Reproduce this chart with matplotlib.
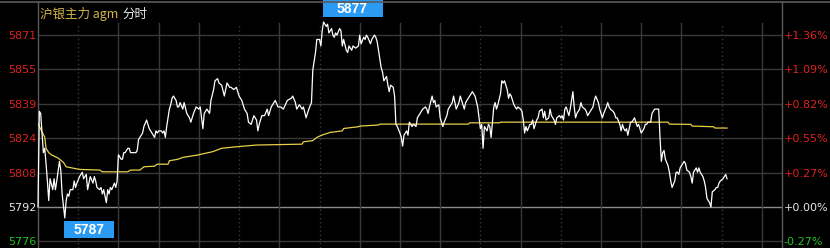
import matplotlib
matplotlib.use('Agg')
import matplotlib.pyplot as plt
from matplotlib.patches import Rectangle
from matplotlib.lines import Line2D
from matplotlib.transforms import IdentityTransform

# settlement price and the price step between grid lines
base_price = 5792
price_step = 15.8
tick_steps = [-1, 0, 1, 2, 3, 4, 5]

# trading minutes in the session, grid every half hour
session_minutes = 555
grid_every = 30
dotted_grid = [1, 5, 7, 11, 13, 17]

title_left = '沪银主力 agm'
title_right = '分时'

# minute-by-minute trace
minutes = [0, 1, 2, 3, 4, 5, 6, 7, 8, 9, 11, 12, 13, 14, 16, 17, 18, 20, 21, 22,
           23, 24, 26, 27, 28, 29, 31, 33, 34, 36, 37, 38, 39, 41, 42, 43, 44, 46, 47, 48,
           49, 51, 52, 53, 54, 55, 57, 58, 59, 60, 62, 63, 64, 65, 67, 68, 69, 70, 73, 74,
           75, 77, 78, 79, 81, 82, 83, 84, 85, 87, 88, 89, 90, 92, 93, 94, 95, 96, 98, 99,
           100, 101, 103, 104, 105, 106, 108, 109, 111, 113, 114, 116, 118, 120, 121, 123, 124, 126, 128, 129,
           131, 132, 134, 135, 137, 139, 141, 143, 144, 146, 148, 150, 152, 154, 156, 157, 159, 161, 163, 164,
           165, 167, 169, 171, 172, 174, 176, 177, 179, 181, 183, 186, 189, 190, 192, 193, 195, 197, 198, 200,
           202, 204, 205, 207, 208, 210, 211, 212, 213, 215, 216, 217, 219, 220, 221, 222, 223, 225, 226, 227,
           228, 230, 231, 232, 234, 235, 237, 239, 240, 241, 243, 244, 245, 246, 248, 249, 251, 252, 253, 255,
           256, 257, 258, 260, 261, 262, 263, 265, 266, 267, 268, 270, 271, 272, 273, 275, 276, 277, 278, 279,
           280, 282, 283, 285, 287, 289, 290, 291, 292, 294, 295, 296, 297, 299, 300, 302, 303, 305, 306, 307,
           309, 310, 311, 312, 314, 315, 317, 318, 319, 321, 322, 324, 326, 328, 329, 330, 331, 332, 333, 335,
           336, 337, 338, 340, 341, 342, 343, 345, 346, 347, 348, 350, 351, 352, 353, 355, 356, 357, 358, 360,
           361, 362, 363, 364, 365, 367, 368, 369, 370, 372, 373, 374, 376, 377, 378, 379, 381, 382, 383, 385,
           386, 387, 389, 390, 391, 392, 393, 394, 396, 397, 399, 400, 401, 402, 404, 405, 406, 408, 409, 410,
           411, 413, 414, 415, 416, 418, 419, 420, 421, 422, 424, 425, 426, 427, 429, 430, 431, 432, 434, 435,
           436, 437, 438, 439, 440, 442, 443, 444, 445, 447, 448, 449, 450, 452, 453, 454, 455, 457, 458, 459,
           460, 462, 463, 464, 465, 466, 467, 468, 470, 471, 472, 473, 475, 476, 477, 478, 479, 481, 482, 483,
           484, 486, 487, 488, 489, 491, 492, 493, 494, 496, 497, 498, 499, 501, 502, 503, 505, 506, 507, 508,
           509, 511, 512, 513, 514]
prices = [5792, 5836, 5835, 5826, 5817, 5819, 5812, 5804, 5795, 5805, 5800, 5805, 5800, 5804, 5813, 5809, 5798, 5787, 5795, 5798,
          5797, 5800, 5800, 5804, 5801, 5803, 5806, 5808, 5805, 5807, 5800, 5803, 5806, 5803, 5806, 5804, 5801, 5800, 5801, 5798,
          5800, 5794, 5800, 5798, 5801, 5800, 5803, 5801, 5804, 5816, 5814, 5814, 5817, 5817, 5819, 5819, 5817, 5817, 5817, 5818,
          5823, 5825, 5826, 5829, 5832, 5830, 5828, 5827, 5826, 5824, 5827, 5826, 5827, 5827, 5826, 5827, 5824, 5829, 5837, 5839,
          5842, 5843, 5841, 5838, 5838, 5840, 5837, 5840, 5835, 5833, 5831, 5835, 5838, 5837, 5838, 5828, 5835, 5837, 5835, 5841,
          5846, 5850, 5851, 5849, 5848, 5843, 5849, 5847, 5847, 5846, 5847, 5843, 5841, 5837, 5835, 5831, 5830, 5834, 5832, 5827,
          5830, 5834, 5834, 5837, 5834, 5838, 5840, 5841, 5838, 5838, 5837, 5841, 5842, 5843, 5840, 5837, 5839, 5837, 5838, 5833,
          5837, 5840, 5855, 5863, 5869, 5869, 5866, 5873, 5877, 5875, 5876, 5872, 5874, 5871, 5870, 5872, 5871, 5874, 5873, 5866,
          5869, 5864, 5863, 5866, 5864, 5866, 5865, 5866, 5871, 5867, 5870, 5869, 5871, 5870, 5867, 5869, 5871, 5870, 5868, 5860,
          5856, 5854, 5850, 5852, 5848, 5845, 5848, 5847, 5843, 5830, 5829, 5826, 5824, 5820, 5825, 5827, 5825, 5831, 5830, 5829,
          5830, 5829, 5833, 5835, 5837, 5838, 5837, 5835, 5838, 5843, 5840, 5841, 5838, 5839, 5833, 5829, 5831, 5834, 5837, 5838,
          5840, 5843, 5840, 5837, 5840, 5843, 5839, 5837, 5840, 5842, 5843, 5845, 5843, 5838, 5833, 5828, 5830, 5819, 5829, 5827,
          5830, 5829, 5824, 5838, 5840, 5837, 5839, 5844, 5850, 5849, 5850, 5846, 5842, 5844, 5843, 5839, 5838, 5837, 5838, 5837,
          5836, 5832, 5826, 5829, 5827, 5830, 5830, 5832, 5828, 5832, 5833, 5836, 5837, 5833, 5836, 5832, 5833, 5837, 5834, 5832,
          5830, 5833, 5834, 5833, 5834, 5832, 5837, 5838, 5834, 5837, 5845, 5838, 5833, 5835, 5837, 5840, 5838, 5837, 5836, 5834,
          5835, 5837, 5838, 5841, 5843, 5840, 5837, 5835, 5833, 5835, 5838, 5840, 5838, 5837, 5836, 5835, 5833, 5833, 5830, 5827,
          5830, 5828, 5827, 5828, 5825, 5831, 5831, 5832, 5833, 5829, 5830, 5828, 5826, 5828, 5830, 5830, 5831, 5831, 5835, 5836,
          5837, 5837, 5837, 5824, 5813, 5817, 5818, 5814, 5811, 5808, 5804, 5801, 5804, 5808, 5808, 5807, 5810, 5812, 5813, 5812,
          5809, 5808, 5806, 5803, 5808, 5810, 5808, 5810, 5808, 5806, 5804, 5801, 5796, 5794, 5792, 5799, 5800, 5801, 5801, 5803,
          5804, 5805, 5806, 5807, 5805]

# average price line
avg_minutes = [0, 3, 5, 6, 8, 10, 15, 16, 19, 21, 31, 46, 48, 67, 69, 76, 79, 87, 89, 97,
               98, 104, 108, 119, 130, 137, 148, 163, 197, 198, 205, 208, 212, 218, 227, 228, 239, 240, 254, 255,
               321, 322, 344, 345, 470, 471, 487, 488, 504, 505, 514]
avg_prices = [5830.5, 5826.5, 5824.2, 5819.0, 5817.0, 5816.0, 5814.5, 5814.0, 5812.5, 5810.5,
              5809.3, 5809.0, 5808.2, 5808.2, 5809.0, 5809.0, 5810.5, 5810.8, 5811.7, 5811.7,
              5813.3, 5813.9, 5814.8, 5815.9, 5817.4, 5819.0, 5819.7, 5820.5, 5820.9, 5822.0,
              5822.5, 5824.0, 5825.1, 5826.3, 5827.0, 5828.1, 5828.9, 5829.2, 5829.7, 5830.1,
              5830.1, 5830.7, 5830.7, 5831.0, 5831.0, 5830.1, 5830.0, 5829.2, 5828.9, 5828.3, 5828.3]

RED = '#dd2222'
GREEN = '#22c322'
WHITE = '#e6e6e6'
GRID = '#393939'
BORDER = '#5a5a5a'

fig = plt.figure(figsize=(8.3, 2.48), dpi=100, facecolor='black')
ax = fig.add_axes([38 / 830, 0, 744 / 830, 246 / 248])
ax.set_facecolor('black')
ax.set_xlim(0, session_minutes)
ax.set_ylim(5773.2, 5886.2)

for side in ['top', 'bottom']:
    ax.spines[side].set_visible(False)
for side in ['left', 'right']:
    ax.spines[side].set_color(BORDER)
    ax.spines[side].set_linewidth(1)

# grid
ticks = [base_price + s * price_step for s in tick_steps]
for t in ticks:
    if t == base_price:
        ax.axhline(t, color='#8a8a8a', lw=1, zorder=1)
    else:
        ax.axhline(t, color=GRID, lw=1, zorder=1)
for k in range(1, session_minutes // grid_every + 1):
    ls = (0, (1, 2)) if k in dotted_grid else '-'
    ax.axvline(k * grid_every, ymax=225 / 246, color=GRID, lw=1, ls=ls, zorder=1)

# lines
ax.plot(avg_minutes, avg_prices, color='#e8cf4a', lw=0.9, zorder=3)
ax.plot(minutes, prices, color='white', lw=0.9, zorder=4, clip_on=False)

# left price labels
ax.set_xticks([])
ax.set_yticks(ticks)
ax.set_yticklabels([str(round(t)) for t in ticks], fontsize=8, family='DejaVu Sans')
ax.tick_params(axis='y', length=0, pad=1)
for t, lab in zip(ticks, ax.get_yticklabels()):
    lab.set_color(RED if t > base_price else (GREEN if t < base_price else WHITE))

# right percent labels
ax2 = ax.twinx()
ax2.set_ylim(ax.get_ylim())
for side in ['top', 'bottom', 'left', 'right']:
    ax2.spines[side].set_visible(False)
ax2.set_yticks(ticks)
pcts = [(t - base_price) / base_price * 100 for t in ticks]
ax2.set_yticklabels([f'{p:+.2f}%' for p in pcts], fontsize=8, family='DejaVu Sans')
ax2.tick_params(axis='y', length=0, pad=1)
for p, lab in zip(pcts, ax2.get_yticklabels()):
    lab.set_color(RED if p > 0 else (GREEN if p < 0 else WHITE))

# borders running to the top edge
fig.add_artist(Line2D([0, 1], [246 / 248, 246 / 248], color=BORDER, lw=1.2))

# title
t1 = fig.text(40 / 830, 234 / 248, title_left, color='#d2b446', fontsize=9,
              family=['Noto Sans CJK SC', 'DejaVu Sans'], va='center', ha='left')
ax.annotate(title_right, xy=(1, 0.5), xycoords=t1, xytext=(4, 0), textcoords='offset pixels',
            color=WHITE, fontsize=9, family=['Noto Sans CJK SC', 'DejaVu Sans'],
            va='center', ha='left', annotation_clip=False)


# high / low price tags
def price_tag(m, p, width, below):
    x0, y0 = ax.transData.transform((m, p))
    if below:
        bottom = y0 - 20.5
    else:
        bottom = y0 + 5
    rect = Rectangle((x0 - 1, bottom), width, 17, transform=IdentityTransform(),
                     facecolor='#2b9af3', edgecolor='none')
    fig.add_artist(rect)
    fig.text((x0 - 1 + width / 2) / 830, (bottom + 8.5) / 248, str(p), color='white',
             fontsize=10, family='Liberation Sans', weight='bold', ha='center', va='center')


hi = prices.index(max(prices))
lo = prices.index(min(prices))
price_tag(minutes[hi], prices[hi], 60, False)
price_tag(minutes[lo], prices[lo], 50, True)

fig.savefig('out.png', dpi=100, facecolor='black')
